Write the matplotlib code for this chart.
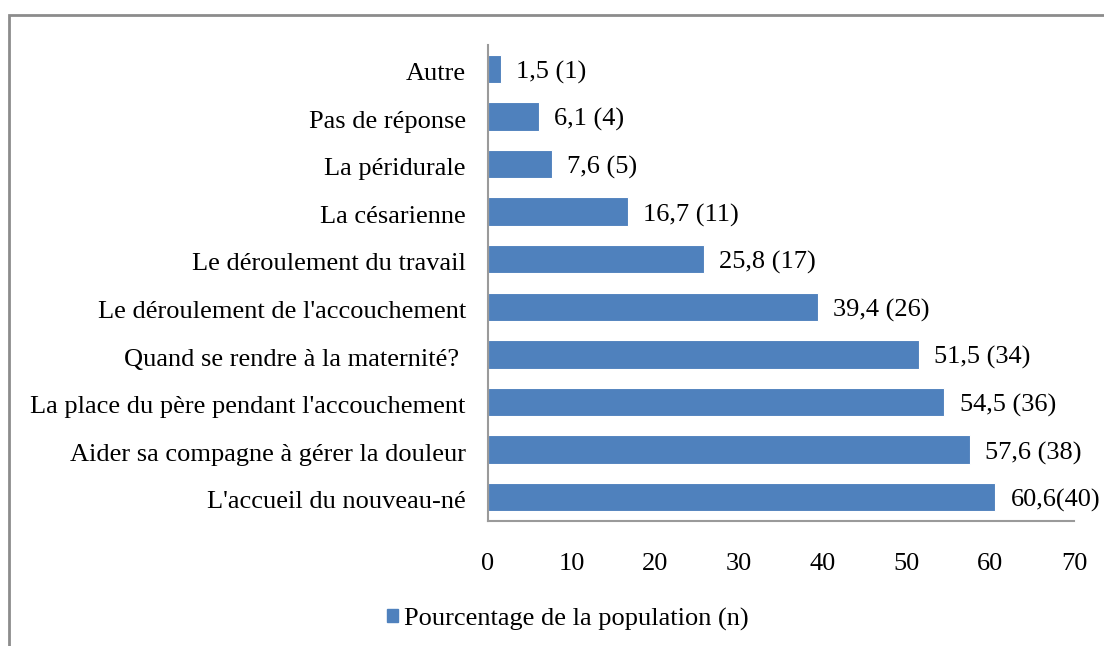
import matplotlib.pyplot as plt
from matplotlib.patches import Rectangle, Patch
from matplotlib.transforms import ScaledTranslation

# Data (top to bottom as shown)
categories = ["Autre", "Pas de réponse", "La péridurale", "La césarienne",
              "Le déroulement du travail", "Le déroulement de l'accouchement",
              "Quand se rendre à la maternité? ",
              "La place du père pendant l'accouchement",
              "Aider sa compagne à gérer la douleur",
              "L'accueil du nouveau-né"]
values = [1.5, 6.1, 7.6, 16.7, 25.8, 39.4, 51.5, 54.5, 57.6, 60.6]
labels = ["1,5 (1)", "6,1 (4)", "7,6 (5)", "16,7 (11)", "25,8 (17)",
          "39,4 (26)", "51,5 (34)", "54,5 (36)", "57,6 (38)", "60,6(40)"]
xticks = [0, 10, 20, 30, 40, 50, 60, 70]

plt.rcParams['font.family'] = ['Liberation Serif', 'DejaVu Serif']
bar_color = '#4F81BD'
fs = 19

fig = plt.figure(figsize=(11.04, 6.46), dpi=100)
ax = fig.add_axes([488 / 1104, 1 - 521 / 646, 586 / 1104, 476 / 646])

pos = list(range(len(categories)))[::-1]
ax.barh(pos, values, height=0.6, color=bar_color, edgecolor='white', linewidth=0.8)
for p, v, lab in zip(pos, values, labels):
    ax.annotate(lab, (v, p), xytext=(11, -2.5), textcoords='offset points',
                va='center', ha='left', fontsize=fs)

ax.set_xlim(0, 70)
ax.set_ylim(-0.5, len(categories) - 0.5)
ax.set_xticks(xticks)
ax.set_yticks(pos)
ax.set_yticklabels(categories)
ax.tick_params(axis='both', length=0, labelsize=fs)
ax.tick_params(axis='y', pad=16)
ax.tick_params(axis='x', pad=23)
# nudge category labels down a little
shift = ScaledTranslation(0, -2 / 72, fig.dpi_scale_trans)
for t in ax.get_yticklabels():
    t.set_transform(t.get_transform() + shift)
for s in ['top', 'right']:
    ax.spines[s].set_visible(False)
for s in ['left', 'bottom']:
    ax.spines[s].set_color('#9a9a9a')
    ax.spines[s].set_linewidth(1.5)

fig.legend(handles=[Patch(color=bar_color, label='Pourcentage de la population (n)')],
           loc='center', bbox_to_anchor=(568 / 1104, 1 - 619 / 646), frameon=False,
           fontsize=fs, handlelength=0.4, handleheight=0.4, handletextpad=0.25)

# outer chart border
fig.patches.append(Rectangle((9 / 1104, -0.1), 1.2, 1 - 15 / 646 + 0.1,
                             transform=fig.transFigure, fill=False,
                             edgecolor='#8c8c8c', linewidth=2))

fig.savefig('out.png', dpi=100)
